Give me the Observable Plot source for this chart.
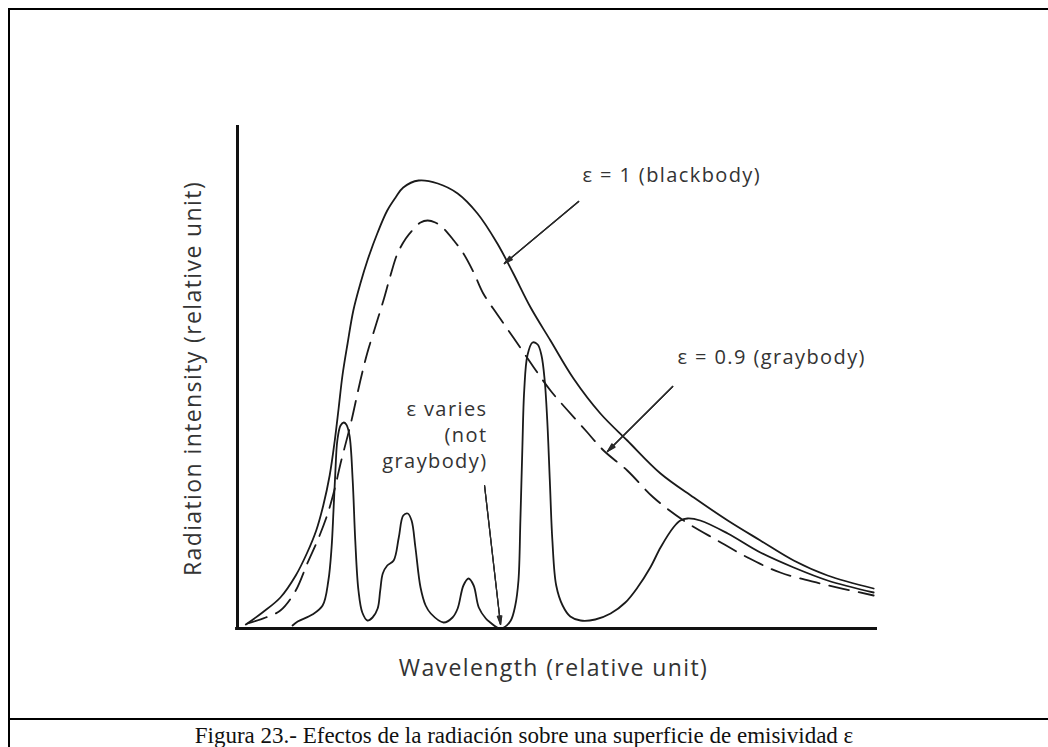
<!DOCTYPE html>
<html><head><meta charset="utf-8">
<script src="https://cdn.jsdelivr.net/npm/d3@7"></script>
<script src="https://cdn.jsdelivr.net/npm/@observablehq/plot@0.6"></script>
<style>
html,body{margin:0;padding:0;background:#fff;overflow:hidden;width:1048px;height:747px;}
#chart{position:absolute;left:0;top:0;}
.bl{position:absolute;background:#000;z-index:2;}
#caption{position:absolute;left:0;top:722px;width:1048px;text-align:center;font-family:"Liberation Serif","Times New Roman",serif;font-size:23px;line-height:27px;color:#111;white-space:nowrap;z-index:2;}
#chart svg text{letter-spacing:1.4px;}
</style></head><body>
<div id="chart"></div>
<div class="bl" style="left:8px;top:8px;width:1100px;height:2px"></div>
<div class="bl" style="left:8px;top:8px;width:2px;height:800px"></div>
<div class="bl" style="left:8px;top:718px;width:1100px;height:2px"></div>
<div id="caption">Figura 23.- Efectos de la radiación sobre una superficie de emisividad ε</div>
<script>
// Blackbody (ε = 1)
const blackX = [0.13,0.39,0.67,0.91,1.09,1.23,1.34,1.44,1.52,1.58,1.64,1.72,1.81,1.92,2.03,2.19,2.34,2.47,2.59,2.83,3.13,3.44,3.75,4.06,4.31,4.58,4.89,5.25,5.67,6.09,6.61,7.13,7.66,8.17,8.69,9.22,9.94];
const blackY = [0.08,0.32,0.62,1.06,1.52,1.96,2.46,3.06,3.76,4.40,5.06,5.70,6.36,6.90,7.36,7.92,8.36,8.62,8.82,8.96,8.90,8.70,8.30,7.70,7.10,6.42,5.76,5.00,4.30,3.76,3.10,2.62,2.16,1.76,1.36,1.06,0.80];
// Graybody (ε = 0.9)
const grayX = [0.16,0.44,0.67,0.91,1.09,1.27,1.41,1.52,1.61,1.77,1.92,2.03,2.16,2.28,2.39,2.50,2.63,2.73,2.86,2.97,3.09,3.22,3.38,3.53,3.69,3.84,4.06,4.31,4.63,4.89,5.16,5.44,5.72,6.09,6.50,6.97,7.50,7.97,8.48,9.11,9.94];
const grayY = [0.10,0.22,0.36,0.76,1.30,1.82,2.30,2.80,3.30,4.10,4.96,5.52,6.06,6.56,7.06,7.50,7.80,7.96,8.12,8.16,8.12,8.00,7.76,7.50,7.12,6.70,6.28,5.82,5.22,4.76,4.36,3.96,3.56,3.16,2.62,2.16,1.76,1.42,1.12,0.90,0.66];
// Varying emissivity (not graybody)
const varX = [0.86,0.94,1.17,1.33,1.42,1.47,1.50,1.53,1.56,1.61,1.66,1.70,1.75,1.80,1.84,1.89,1.95,2.03,2.11,2.19,2.23,2.27,2.34,2.44,2.52,2.59,2.66,2.72,2.78,2.86,2.94,3.02,3.22,3.36,3.44,3.53,3.61,3.69,3.77,3.88,3.95,4.06,4.16,4.27,4.34,4.39,4.42,4.45,4.48,4.53,4.61,4.69,4.75,4.80,4.84,4.88,4.92,4.98,5.08,5.20,5.36,5.59,5.83,6.06,6.25,6.45,6.61,6.81,6.92,7.03,7.23,7.66,8.17,8.69,9.22,9.94];
const varY = [0.06,0.14,0.28,0.46,0.96,1.62,2.36,3.16,3.76,4.06,4.12,4.08,3.86,2.96,1.76,0.76,0.32,0.16,0.22,0.40,0.76,1.10,1.26,1.36,1.82,2.26,2.30,2.16,1.62,0.82,0.46,0.30,0.12,0.22,0.40,0.86,1.00,0.86,0.42,0.20,0.12,0.02,0.02,0.16,0.46,0.96,2.16,3.56,4.76,5.46,5.72,5.68,5.46,4.96,4.16,2.96,1.76,0.86,0.46,0.24,0.16,0.18,0.30,0.52,0.82,1.22,1.62,2.02,2.16,2.20,2.16,1.90,1.52,1.22,0.96,0.72];

// Annotations
const labelTexts = ["ε = 1 (blackbody)", "ε = 0.9 (graybody)", "ε varies\n(not\ngraybody)"];
const labelX = [5.39, 6.875, 3.906];
const labelY = [9.06, 5.42, 3.90];
const labelAnchor = ["start", "start", "end"];
const arrowX1 = [5.33, 6.80, 3.86];
const arrowY1 = [8.54, 4.84, 2.86];
const arrowX2 = [4.17, 5.78, 4.11];
const arrowY2 = [7.30, 3.54, 0.08];

const xLabel = "Wavelength (relative unit)";
const yLabel = "Radiation intensity (relative unit)";
const yAxisTop = 10.06;

const toPts = (xs, ys) => xs.map((x, i) => ({x, y: ys[i]}));
const black = toPts(blackX, blackY);
const gray = toPts(grayX, grayY);
const vary = toPts(varX, varY);
const labels = labelTexts.map((t, i) => ({t, x: labelX[i], y: labelY[i], a: labelAnchor[i]}));
const arrows = arrowX1.map((x1, i) => ({x1, y1: arrowY1[i], x2: arrowX2[i], y2: arrowY2[i]}));

const arrowStyle = {x1: "x1", y1: "y1", x2: "x2", y2: "y2", stroke: "#2a2a2a", strokeWidth: 1.2, headLength: 11};

const chart = Plot.plot({
  width: 1048,
  height: 718,
  marginLeft: 237,
  marginRight: 171,
  marginTop: 128,
  marginBottom: 90,
  x: {domain: [0, 10], axis: null},
  y: {domain: [0, 10], axis: null},
  style: {fontFamily: "'Open Sans', sans-serif", background: "transparent", color: "#333"},
  marks: [
    Plot.line(black, {x: "x", y: "y", curve: "catmull-rom", stroke: "#1a1a1a", strokeWidth: 1.8}),
    Plot.line(gray, {x: "x", y: "y", curve: "catmull-rom", stroke: "#1a1a1a", strokeWidth: 1.8, strokeDasharray: "20,10"}),
    Plot.line(vary, {x: "x", y: "y", curve: "catmull-rom", stroke: "#1a1a1a", strokeWidth: 1.8}),
    Plot.ruleX([0], {y1: 0, y2: yAxisTop, stroke: "#111", strokeWidth: 3}),
    Plot.ruleY([0], {x1: -0.03, x2: 10, stroke: "#111", strokeWidth: 3}),
    Plot.arrow(arrows, {...arrowStyle, headAngle: 30}),
    Plot.arrow(arrows, {...arrowStyle, headAngle: 20}),
    Plot.arrow(arrows, {...arrowStyle, headAngle: 10}),
    Plot.text(labels.filter(d => d.a === "start"), {x: "x", y: "y", text: "t", textAnchor: "start", fontSize: 20, fill: "#333"}),
    Plot.text(labels.filter(d => d.a === "end"), {x: "x", y: "y", text: "t", textAnchor: "end", lineHeight: 1.32, fontSize: 20, fill: "#333"}),
    Plot.text([xLabel], {frameAnchor: "bottom", dy: 40, dx: -4, lineAnchor: "middle", textAnchor: "middle", fontSize: 23, fill: "#333"}),
    Plot.text([yLabel], {frameAnchor: "left", dx: -44, rotate: -90, lineAnchor: "middle", textAnchor: "middle", fontSize: 23, fill: "#333"})
  ]
});
document.getElementById("chart").appendChild(chart);
</script>
</body></html>
